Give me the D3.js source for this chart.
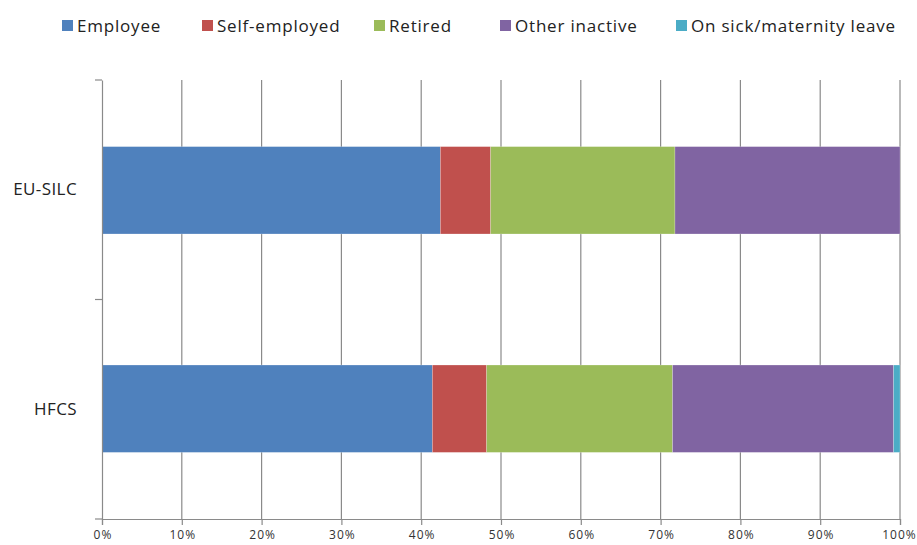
<!DOCTYPE html>
<html><head><meta charset="utf-8">
<script src="https://cdn.jsdelivr.net/npm/d3@7"></script>
<style>body{margin:0;background:#fff}svg{display:block}</style>
</head><body>
<svg id="c" width="917" height="545"></svg>
<script>
const categories = ["EU-SILC", "HFCS"];
const seriesNames = ["Employee", "Self-employed", "Retired", "Other inactive", "On sick/maternity leave"];
const employee = [42.4, 41.4];
const selfEmployed = [6.3, 6.8];
const retired = [23.1, 23.3];
const otherInactive = [28.2, 27.7];
const sickLeave = [0.0, 0.8];
const xTicks = [0, 10, 20, 30, 40, 50, 60, 70, 80, 90, 100];
const colors = ["#4F81BD", "#C0504D", "#9BBB59", "#8064A2", "#4BACC6"];

(function(){
const seriesValues = [employee, selfEmployed, retired, otherInactive, sickLeave];
const rows = categories.map((c, i) => {
  const r = {cat: c};
  seriesNames.forEach((s, j) => r[s] = seriesValues[j][i]);
  return r;
});

const svg = d3.select("#c");
const font = "'Open Sans', sans-serif";
const pl = 102, pr = 900, pt = 80, pb = 519;
const x = d3.scaleLinear().domain([0, 100]).range([pl, pr]);
const y = d3.scaleBand().domain(categories).range([pt, pb]).paddingInner(0.6).paddingOuter(0.305);
const yb = d3.scaleBand().domain(categories).range([pt, pb]);

// gridlines
svg.append("g").selectAll("line").data(xTicks.slice(1)).join("line")
  .attr("x1", d => x(d)).attr("x2", d => x(d))
  .attr("y1", pt).attr("y2", pb)
  .attr("stroke", "#8a8a8a").attr("stroke-width", 1.2);

// stacked bars
const stack = d3.stack().keys(seriesNames)(rows);
svg.append("g").selectAll("g").data(stack).join("g")
  .attr("fill", (d, i) => colors[i])
  .selectAll("rect").data(d => d).join("rect")
  .attr("x", d => x(d[0]))
  .attr("width", d => Math.max(0, x(d[1]) - x(d[0])))
  .attr("y", d => y(d.data.cat))
  .attr("height", y.bandwidth())
  .attr("stroke", "rgba(255,255,255,0.35)").attr("stroke-width", 0.6);

// x axis
const xAxis = d3.axisBottom(x).tickValues(xTicks).tickFormat(d => d + "%").tickSize(6).tickPadding(0);
const gx = svg.append("g").attr("transform", `translate(0,${pb})`).call(xAxis);
gx.select(".domain").attr("stroke", "#8a8a8a").attr("stroke-width", 1.2);
gx.selectAll(".tick line").attr("stroke", "#8a8a8a").attr("stroke-width", 1.2);
gx.selectAll("text").attr("font-family", font).attr("font-size", 12).attr("fill", "#333")
  .attr("letter-spacing", "1px").attr("dy", null).attr("y", 20).attr("dx", 0.5);
gx.selectAll(".tick").filter(d => d === 100).select("text").attr("dx", -1);

// y axis
const yAxis = d3.axisLeft(yb).tickSize(0).tickPadding(25);
const gy = svg.append("g").attr("transform", `translate(${pl},0)`).call(yAxis);
gy.select(".domain").attr("stroke", "#8a8a8a").attr("stroke-width", 1.2);
gy.selectAll("text").attr("font-family", font).attr("font-size", 17).attr("fill", "#222")
  .attr("letter-spacing", "0.4px");
const bounds = [pt, ...categories.map(c => yb(c) + yb.bandwidth())];
svg.append("g").selectAll("line").data(bounds).join("line")
  .attr("x1", pl - 7).attr("x2", pl)
  .attr("y1", d => d).attr("y2", d => d)
  .attr("stroke", "#8a8a8a").attr("stroke-width", 1.2);

// legend
const legendX = [62, 202, 374, 500, 676];
const lg = svg.append("g").selectAll("g").data(seriesNames).join("g")
  .attr("transform", (d, i) => `translate(${legendX[i]},26)`);
lg.append("rect").attr("x", 0).attr("y", -6).attr("width", 11).attr("height", 11)
  .attr("fill", (d, i) => colors[i]);
lg.append("text").attr("x", 15).attr("y", 6)
  .attr("font-family", font).attr("font-size", 17).attr("letter-spacing", "0.8px")
  .attr("fill", "#222").text(d => d);
})();
</script>
</body></html>
